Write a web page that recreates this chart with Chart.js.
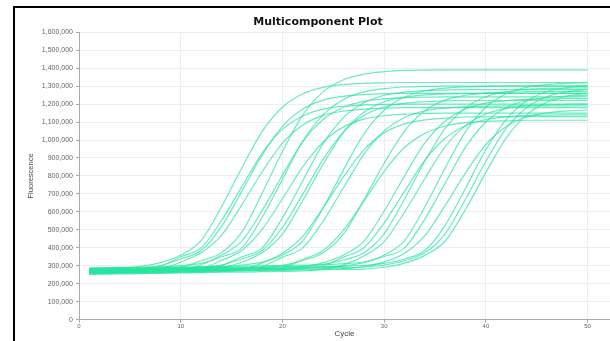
<!DOCTYPE html>
<html>
<head>
<meta charset="utf-8">
<script src="https://cdn.jsdelivr.net/npm/chart.js@4.4.1/dist/chart.umd.min.js"></script>
<style>
html, body { margin: 0; padding: 0; background: #fff; }
#wrap { position: relative; width: 610px; height: 341px; overflow: hidden; }
#frame { position: absolute; left: 13px; top: 6px; width: 700px; height: 400px;
  border-left: 2px solid #000; border-top: 2px solid #000; }
#chart { position: absolute; left: 0; top: 0; }
</style>
</head>
<body>
<div id="wrap">
  <div id="frame"></div>
  <canvas id="chart" width="610" height="341"></canvas>
</div>
<script>
const cycles = [1, 2, 4, 6, 8, 10, 12, 14, 16, 18, 20, 22, 24, 26, 28, 30, 32, 34, 36, 38, 40, 42, 44, 46, 48, 50];

// fluorescence per well, in thousands
const wellA1 = [285, 286, 288, 297, 318, 360, 440, 627, 844, 1047, 1182, 1257, 1293, 1308, 1315, 1318, 1320, 1320, 1320, 1320, 1320, 1320, 1320, 1320, 1320, 1320];
const wellA2 = [270, 271, 273, 280, 296, 350, 400, 551, 739, 927, 1059, 1134, 1172, 1188, 1195, 1198, 1200, 1200, 1200, 1200, 1200, 1200, 1200, 1200, 1200, 1200];
const wellA3 = [280, 281, 283, 287, 301, 338, 385, 518, 714, 916, 1076, 1172, 1222, 1243, 1253, 1258, 1260, 1260, 1260, 1260, 1260, 1260, 1260, 1260, 1260, 1260];
const wellA4 = [265, 266, 268, 270, 282, 320, 372, 469, 639, 822, 983, 1084, 1137, 1161, 1172, 1178, 1180, 1180, 1180, 1180, 1180, 1180, 1180, 1180, 1180, 1180];
const wellB1 = [275, 276, 278, 280, 281, 293, 328, 372, 487, 703, 936, 1140, 1268, 1335, 1366, 1380, 1387, 1389, 1390, 1390, 1390, 1390, 1390, 1390, 1390, 1390];
const wellB2 = [258, 259, 261, 262, 264, 274, 305, 360, 437, 607, 805, 991, 1114, 1182, 1215, 1229, 1236, 1238, 1240, 1240, 1240, 1240, 1240, 1240, 1240, 1240];
const wellB3 = [288, 289, 291, 292, 294, 301, 313, 350, 400, 569, 781, 993, 1141, 1226, 1268, 1286, 1295, 1298, 1300, 1300, 1300, 1300, 1300, 1300, 1300, 1300];
const wellB4 = [262, 263, 265, 266, 268, 273, 284, 330, 385, 503, 673, 850, 989, 1073, 1116, 1135, 1144, 1148, 1150, 1150, 1150, 1150, 1150, 1150, 1150, 1150];
const wellC1 = [272, 273, 275, 276, 278, 280, 287, 302, 350, 400, 566, 773, 980, 1125, 1207, 1249, 1266, 1275, 1278, 1280, 1280, 1280, 1280, 1280, 1280, 1280];
const wellC2 = [280, 281, 283, 284, 286, 288, 293, 304, 338, 385, 513, 699, 892, 1045, 1136, 1184, 1204, 1213, 1218, 1220, 1220, 1220, 1220, 1220, 1220, 1220];
const wellC3 = [268, 269, 271, 272, 274, 276, 278, 290, 320, 372, 476, 663, 866, 1043, 1154, 1213, 1239, 1251, 1257, 1259, 1260, 1260, 1260, 1260, 1260, 1260];
const wellD1 = [255, 256, 258, 259, 261, 263, 265, 267, 278, 315, 370, 464, 623, 795, 945, 1040, 1090, 1112, 1122, 1128, 1129, 1130, 1130, 1130, 1130, 1130];
const wellD2 = [283, 284, 286, 287, 289, 291, 292, 294, 304, 320, 360, 439, 622, 834, 1033, 1166, 1239, 1274, 1289, 1296, 1299, 1300, 1300, 1300, 1300, 1300];
const wellD3 = [265, 266, 268, 269, 271, 273, 275, 277, 283, 296, 348, 400, 549, 734, 920, 1050, 1125, 1162, 1178, 1185, 1188, 1190, 1190, 1190, 1190, 1190];
const wellE1 = [260, 261, 263, 264, 266, 268, 270, 272, 273, 278, 289, 335, 385, 498, 659, 826, 958, 1037, 1078, 1096, 1104, 1107, 1110, 1110, 1110, 1110];
const wellE2 = [275, 276, 278, 279, 281, 283, 285, 287, 288, 290, 302, 330, 372, 477, 666, 871, 1050, 1163, 1222, 1249, 1261, 1267, 1269, 1270, 1270, 1270];
const wellF1 = [268, 269, 271, 272, 274, 276, 278, 280, 281, 283, 285, 295, 318, 360, 436, 605, 800, 984, 1106, 1173, 1205, 1219, 1226, 1228, 1230, 1230];
const wellF2 = [262, 263, 265, 266, 268, 270, 272, 274, 275, 277, 279, 286, 300, 348, 400, 539, 714, 888, 1010, 1079, 1114, 1129, 1136, 1139, 1140, 1140];
const wellF3 = [278, 279, 281, 282, 284, 286, 288, 290, 291, 293, 295, 297, 309, 332, 372, 479, 672, 882, 1065, 1180, 1241, 1268, 1281, 1287, 1289, 1290];
const wellF4 = [252, 253, 255, 256, 258, 260, 262, 264, 265, 267, 269, 271, 281, 305, 355, 435, 598, 786, 963, 1080, 1145, 1176, 1190, 1196, 1199, 1200];
const wellG1 = [270, 271, 273, 274, 276, 278, 280, 282, 283, 285, 287, 289, 291, 300, 318, 360, 440, 627, 844, 1047, 1182, 1257, 1293, 1308, 1315, 1318];
const wellG2 = [285, 286, 288, 289, 291, 293, 295, 297, 298, 300, 302, 304, 306, 312, 321, 352, 400, 560, 760, 960, 1100, 1180, 1220, 1237, 1245, 1248];
const wellG3 = [262, 263, 265, 266, 268, 270, 272, 274, 275, 277, 279, 281, 283, 284, 296, 322, 370, 468, 636, 817, 975, 1075, 1128, 1151, 1162, 1167];
const wellH1 = [275, 276, 278, 279, 281, 283, 285, 287, 288, 290, 292, 294, 296, 297, 302, 313, 338, 385, 525, 732, 946, 1115, 1217, 1270, 1292, 1303];
const wellH2 = [268, 269, 271, 272, 274, 276, 278, 280, 281, 283, 285, 287, 289, 290, 292, 304, 328, 372, 479, 672, 882, 1065, 1180, 1241, 1268, 1281];
const wellH3 = [258, 259, 261, 262, 264, 266, 268, 270, 271, 273, 275, 277, 279, 280, 282, 292, 315, 358, 438, 615, 820, 1012, 1140, 1211, 1245, 1259];

const wells = [wellA1, wellA2, wellA3, wellA4, wellB1, wellB2, wellB3, wellB4,
  wellC1, wellC2, wellC3, wellD1, wellD2, wellD3, wellE1, wellE2,
  wellF1, wellF2, wellF3, wellF4, wellG1, wellG2, wellG3, wellH1, wellH2, wellH3];

const xTicks = [0, 10, 20, 30, 40, 50];
const yMax = 1600000;

var datasets = wells.map(function (w, i) {
  return {
    label: 'Well ' + (i + 1),
    data: w.map(function (v, j) { return { x: cycles[j], y: v * 1000 }; }),
    borderColor: 'rgba(40, 228, 160, 0.7)',
    borderWidth: 1.2,
    pointRadius: 0,
    fill: false,
    cubicInterpolationMode: 'monotone'
  };
});

var tickFont = { family: 'Liberation Sans, Arial, sans-serif', size: 7 };

new Chart(document.getElementById('chart'), {
  type: 'line',
  data: { datasets: datasets },
  options: {
    responsive: false,
    animation: false,
    layout: { padding: { left: 26, right: 0, top: 8, bottom: 0 } },
    plugins: {
      legend: { display: false },
      tooltip: { enabled: false },
      title: {
        display: true,
        text: 'Multicomponent Plot',
        color: '#111',
        font: { family: 'DejaVu Sans, sans-serif', size: 11, weight: 'bold' },
        padding: { top: 8, bottom: 3 }
      }
    },
    scales: {
      x: {
        type: 'linear',
        min: 0,
        max: 52.2,
        afterFit: function (s) { s.height = 21.3; },
        afterBuildTicks: function (s) {
          s.ticks = xTicks.map(function (v) { return { value: v }; });
        },
        grid: { color: '#eeeeee', tickColor: '#aaaaaa', tickLength: 3 },
        border: { color: '#aaaaaa' },
        ticks: { font: { family: 'Liberation Sans, Arial, sans-serif', size: 6 }, color: '#666', padding: 0, maxRotation: 0 },
        title: {
          display: true, text: 'Cycle', color: '#444',
          font: { family: 'Liberation Sans, Arial, sans-serif', size: 8 },
          padding: { top: 0, bottom: 2 }
        }
      },
      y: {
        min: 0,
        max: yMax,
        afterFit: function (s) { s.width = 53; },
        grid: { color: '#eeeeee', tickColor: '#aaaaaa', tickLength: 3 },
        border: { color: '#aaaaaa' },
        ticks: {
          stepSize: 100000,
          font: tickFont,
          color: '#666',
          padding: 3,
          callback: function (v) { return v.toLocaleString('en-US'); }
        },
        title: {
          display: true, text: 'Fluorescence', color: '#444',
          font: { family: 'Liberation Sans, Arial, sans-serif', size: 7.5 },
          padding: 0
        }
      }
    }
  }
});
</script>
</body>
</html>
